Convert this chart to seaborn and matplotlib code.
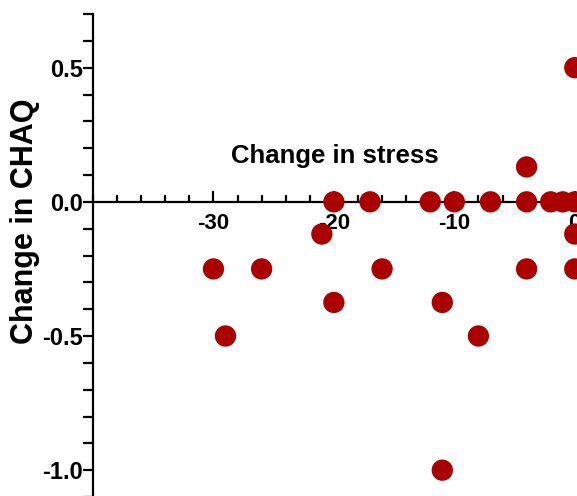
import matplotlib
matplotlib.use("Agg")
import matplotlib.pyplot as plt
from matplotlib.ticker import MultipleLocator
import seaborn as sns
import pandas as pd

stress_change = [-20, -17, -12, -10, -7, -4, -4, -2, -1, -21, 0, 0, 0,
                 -30, -26, -16, -4, 0, -20, -11, -29, -8, -11]
chaq_change = [0.0, 0.0, 0.0, 0.0, 0.0, 0.0, 0.13, 0.0, 0.0, -0.12, -0.12, 0.5, -0.25,
               -0.25, -0.25, -0.25, -0.25, 0.0, -0.375, -0.375, -0.5, -0.5, -1.0]
x_ticks = [-30, -20, -10, 0]
y_ticks = [-1.0, -0.5, 0.0, 0.5]

df = pd.DataFrame({"stress": stress_change, "chaq": chaq_change})

sns.set_style("ticks")
plt.rcParams["font.family"] = ["Liberation Sans", "DejaVu Sans"]
plt.rcParams["font.weight"] = "bold"
plt.rcParams["text.color"] = "black"
plt.rcParams["axes.labelcolor"] = "black"
plt.rcParams["xtick.color"] = "black"
plt.rcParams["ytick.color"] = "black"

W, H = 577, 496
fig = plt.figure(figsize=(W / 100, H / 100), dpi=100)
# axes in pixels: left 93, width 542, top 14, bottom 497
ax = fig.add_axes([93 / W, (H - 497) / H, 542 / W, 483 / H])

sns.scatterplot(data=df, x="stress", y="chaq", ax=ax, color="#AA0000",
                s=235, edgecolor="none", linewidth=0, zorder=3, clip_on=False)

ax.set_xlim(-40, 5)
ax.set_ylim(-1.1, 0.7)

ax.spines["right"].set_visible(False)
ax.spines["top"].set_visible(False)
ax.spines["bottom"].set_position(("data", 0))
for sp in ("left", "bottom"):
    ax.spines[sp].set_linewidth(1.6)
    ax.spines[sp].set_color("black")

ax.set_xticks(x_ticks)
ax.set_xticklabels([f"{v:d}" for v in x_ticks])
ax.set_yticks(y_ticks)
ax.set_yticklabels([f"{v:.1f}" for v in y_ticks])
ax.xaxis.set_minor_locator(MultipleLocator(2))
ax.yaxis.set_minor_locator(MultipleLocator(0.1))

ax.tick_params(axis="x", which="major", direction="in", length=8, width=1.6,
               labelsize=16, pad=8, colors="black")
ax.tick_params(axis="x", which="minor", direction="in", length=5, width=1.6)
ax.tick_params(axis="y", which="major", direction="out", length=7, width=1.6,
               labelsize=17, pad=0.5, colors="black")
ax.tick_params(axis="y", which="minor", direction="out", length=7, width=1.6)
for lab in ax.get_xticklabels() + ax.get_yticklabels():
    lab.set_fontweight("bold")
    lab.set_color("black")

ax.set_xlabel("Change in stress", fontsize=18.5, fontweight="bold", color="black")
ax.xaxis.set_label_coords((335 - 93) / 542, (497 - 156) / 483)
ax.xaxis.label.set_va("center")
ax.set_ylabel("Change in CHAQ", fontsize=22, fontweight="bold", color="black")
ax.yaxis.set_label_coords((25 - 93) / 542, (497 - 221) / 483)
ax.yaxis.label.set_va("center")

fig.savefig("out.png", dpi=100)
